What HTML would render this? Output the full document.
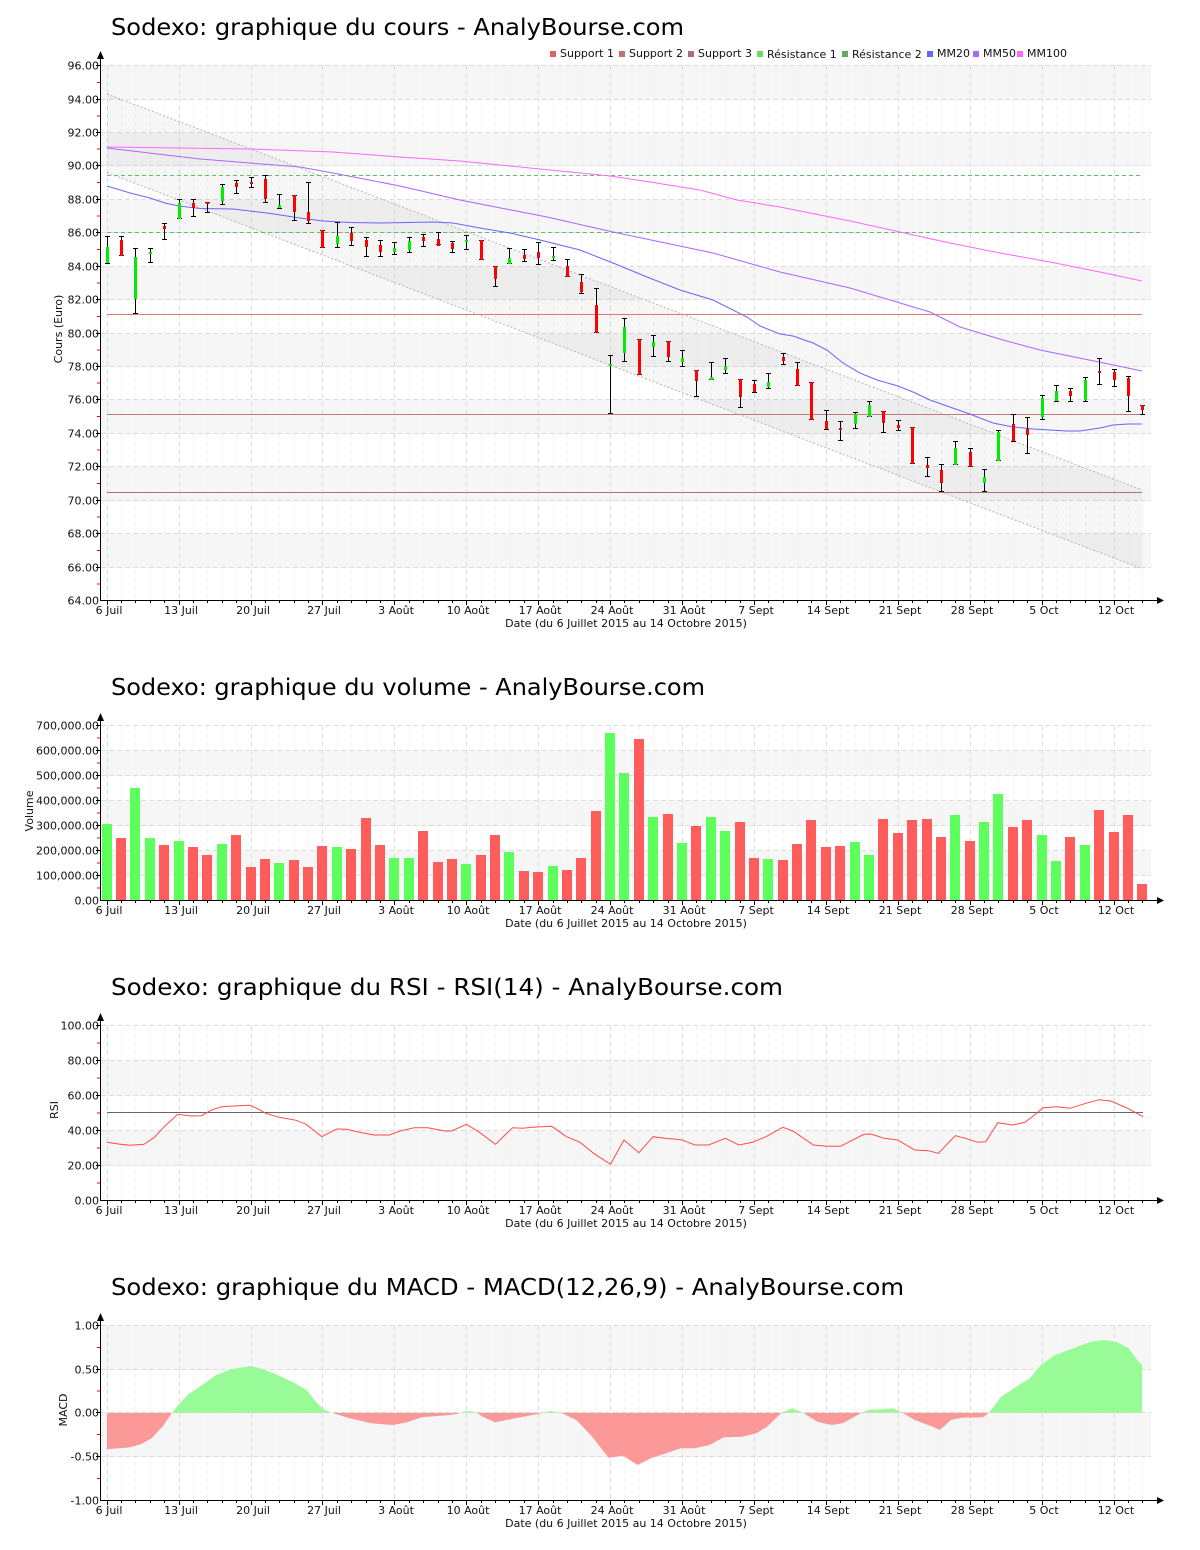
<!DOCTYPE html>
<html><head><meta charset="utf-8"><style>
html,body{margin:0;padding:0;background:#fff;}
svg{display:block;}
.t{font-family:"DejaVu Sans","Liberation Sans",sans-serif;font-size:11px;fill:#111;}
.ttl{font-family:"DejaVu Sans","Liberation Sans",sans-serif;font-size:23px;fill:#000;}
</style></head><body>
<svg width="1200" height="1550" viewBox="0 0 1200 1550" xmlns="http://www.w3.org/2000/svg">
<defs>
<path id="vmajT" d="M107.5 0v535M179.5 0v535M251.5 0v535M322.5 0v535M394.5 0v535M466.5 0v535M538.5 0v535M610.5 0v535M682.5 0v535M754.5 0v535M826.5 0v535M898.5 0v535M970.5 0v535M1042.5 0v535M1114.5 0v535" fill="none" stroke="#dcdcdc" stroke-dasharray="5 3"/>
<path id="vminT" d="M121.5 0v535M135.5 0v535M150.5 0v535M164.5 0v535M193.5 0v535M207.5 0v535M222.5 0v535M236.5 0v535M265.5 0v535M279.5 0v535M294.5 0v535M308.5 0v535M337.5 0v535M351.5 0v535M366.5 0v535M380.5 0v535M409.5 0v535M423.5 0v535M438.5 0v535M452.5 0v535M481.5 0v535M495.5 0v535M509.5 0v535M524.5 0v535M553.5 0v535M567.5 0v535M581.5 0v535M596.5 0v535M624.5 0v535M639.5 0v535M653.5 0v535M668.5 0v535M696.5 0v535M711.5 0v535M725.5 0v535M740.5 0v535M768.5 0v535M783.5 0v535M797.5 0v535M811.5 0v535M840.5 0v535M855.5 0v535M869.5 0v535M883.5 0v535M912.5 0v535M927.5 0v535M941.5 0v535M955.5 0v535M984.5 0v535M998.5 0v535M1013.5 0v535M1027.5 0v535M1056.5 0v535M1070.5 0v535M1085.5 0v535M1099.5 0v535M1128.5 0v535M1142.5 0v535" fill="none" stroke="#f2f2f2" stroke-dasharray="5 3"/>
<path id="vmajS" d="M107.5 0v175M179.5 0v175M251.5 0v175M322.5 0v175M394.5 0v175M466.5 0v175M538.5 0v175M610.5 0v175M682.5 0v175M754.5 0v175M826.5 0v175M898.5 0v175M970.5 0v175M1042.5 0v175M1114.5 0v175" fill="none" stroke="#dcdcdc" stroke-dasharray="5 3"/>
<path id="vminS" d="M121.5 0v175M135.5 0v175M150.5 0v175M164.5 0v175M193.5 0v175M207.5 0v175M222.5 0v175M236.5 0v175M265.5 0v175M279.5 0v175M294.5 0v175M308.5 0v175M337.5 0v175M351.5 0v175M366.5 0v175M380.5 0v175M409.5 0v175M423.5 0v175M438.5 0v175M452.5 0v175M481.5 0v175M495.5 0v175M509.5 0v175M524.5 0v175M553.5 0v175M567.5 0v175M581.5 0v175M596.5 0v175M624.5 0v175M639.5 0v175M653.5 0v175M668.5 0v175M696.5 0v175M711.5 0v175M725.5 0v175M740.5 0v175M768.5 0v175M783.5 0v175M797.5 0v175M811.5 0v175M840.5 0v175M855.5 0v175M869.5 0v175M883.5 0v175M912.5 0v175M927.5 0v175M941.5 0v175M955.5 0v175M984.5 0v175M998.5 0v175M1013.5 0v175M1027.5 0v175M1056.5 0v175M1070.5 0v175M1085.5 0v175M1099.5 0v175M1128.5 0v175M1142.5 0v175" fill="none" stroke="#f2f2f2" stroke-dasharray="5 3"/>
<path id="xticks" d="M107.5 0v4M179.5 0v4M251.5 0v4M322.5 0v4M394.5 0v4M466.5 0v4M538.5 0v4M610.5 0v4M682.5 0v4M754.5 0v4M826.5 0v4M898.5 0v4M970.5 0v4M1042.5 0v4M1114.5 0v4M121.5 0v2M135.5 0v2M150.5 0v2M164.5 0v2M193.5 0v2M207.5 0v2M222.5 0v2M236.5 0v2M265.5 0v2M279.5 0v2M294.5 0v2M308.5 0v2M337.5 0v2M351.5 0v2M366.5 0v2M380.5 0v2M409.5 0v2M423.5 0v2M438.5 0v2M452.5 0v2M481.5 0v2M495.5 0v2M509.5 0v2M524.5 0v2M553.5 0v2M567.5 0v2M581.5 0v2M596.5 0v2M624.5 0v2M639.5 0v2M653.5 0v2M668.5 0v2M696.5 0v2M711.5 0v2M725.5 0v2M740.5 0v2M768.5 0v2M783.5 0v2M797.5 0v2M811.5 0v2M840.5 0v2M855.5 0v2M869.5 0v2M883.5 0v2M912.5 0v2M927.5 0v2M941.5 0v2M955.5 0v2M984.5 0v2M998.5 0v2M1013.5 0v2M1027.5 0v2M1056.5 0v2M1070.5 0v2M1085.5 0v2M1099.5 0v2M1128.5 0v2M1142.5 0v2" fill="none" stroke="#000"/>
<clipPath id="cpos"><rect x="100" y="1300" width="1060" height="112.7"/></clipPath>
<clipPath id="cneg"><rect x="100" y="1412.7" width="1060" height="100"/></clipPath>
</defs>

<!-- ================= PRICE CHART ================= -->
<text class="ttl" x="111" y="35" textLength="573" lengthAdjust="spacingAndGlyphs">Sodexo: graphique du cours - AnalyBourse.com</text>

<g class="t">
<rect x="550" y="51" width="6" height="6" fill="#d86464"/><text x="560" y="57">Support 1</text>
<rect x="619" y="51" width="6" height="6" fill="#c47272"/><text x="629" y="57">Support 2</text>
<rect x="688" y="51" width="6" height="6" fill="#a87070"/><text x="698" y="57">Support 3</text>
<rect x="757" y="51" width="6" height="6" fill="#66dd66"/><text x="767" y="58">Résistance 1</text>
<rect x="842" y="51" width="6" height="6" fill="#66aa66"/><text x="852" y="58">Résistance 2</text>
<rect x="927" y="51" width="6" height="6" fill="#6666ff"/><text x="937" y="57">MM20</text>
<rect x="973" y="51" width="6" height="6" fill="#aa66ff"/><text x="983" y="57">MM50</text>
<rect x="1017" y="51" width="6" height="6" fill="#ff66ff"/><text x="1027" y="57">MM100</text>
</g>

<g fill="#f6f6f6">
<rect x="101" y="66" width="1050" height="33"/>
<rect x="101" y="133" width="1050" height="33"/>
<rect x="101" y="200" width="1050" height="33"/>
<rect x="101" y="267" width="1050" height="33"/>
<rect x="101" y="334" width="1050" height="33"/>
<rect x="101" y="400" width="1050" height="34"/>
<rect x="101" y="467" width="1050" height="34"/>
<rect x="101" y="534" width="1050" height="34"/>
</g>
<use href="#vminT" transform="translate(0,65.5)"/>
<use href="#vmajT" transform="translate(0,65.5)"/>
<path d="M101 65.5H1151M101 99.5H1151M101 132.5H1151M101 165.5H1151M101 199.5H1151M101 232.5H1151M101 266.5H1151M101 299.5H1151M101 333.5H1151M101 366.5H1151M101 399.5H1151M101 433.5H1151M101 466.5H1151M101 500.5H1151M101 533.5H1151M101 567.5H1151" fill="none" stroke="#dcdcdc" stroke-dasharray="5 3"/>

<polygon points="107,94 1142,490 1142,568.7 107,172.5" fill="#000" fill-opacity="0.035"/>
<path d="M107 94L1142 490M107 172.5L1142 568.7" fill="none" stroke="#b4b4b4" stroke-dasharray="2 2"/>

<path d="M107 314.5H1142" stroke="#dd7878" fill="none"/>
<path d="M107 414.5H1142" stroke="#c47a7a" fill="none"/>
<path d="M107 492.5H1142" stroke="#b07272" fill="none"/>
<path d="M107 175.5H1142M107 232.5H1142" stroke="#66bb66" stroke-dasharray="4 3" fill="none"/>

<polyline fill="none" stroke="#ff66ff" points="107,147 250,149 333,152 400,157 460,161 500,165 550,170 610,176 650,182 700,190 737,200 780,207 800,211 850,221 900,232 950,243 1000,253 1050,262 1100,272 1142,281"/>
<polyline fill="none" stroke="#aa66ff" points="107,148 200,159 300,167 333,173 400,186 460,200 547,217 613,232 713,253 780,272 850,288 900,303 930,312 960,327 1003,340 1040,350 1099,362 1142,371"/>
<polyline fill="none" stroke="#6666ff" points="107,186 130,193 150,198 165,203 179,206 200,208.5 233,209 267,213 300,218 323,221 350,222.5 380,223 433,222 453,223 480,228 510,233 540,240 580,250 613,263 647,277 680,290 713,300 747,317 760,326 780,334 793,336 813,343 827,350 843,363 860,373 877,380 898,386 913,392 930,400 967,413 993,423 1013,427 1033,429 1067,431 1080,431 1100,428 1113,425 1128,424 1142,424"/>

<path fill="none" stroke="#000" d="M107.5 236V264M105 236.5h5M105 263.5h5M121.5 236V256M119 236.5h5M119 255.5h5M135.5 248V314M133 248.5h5M133 313.5h5M150.5 248V263M148 248.5h5M148 262.5h5M164.5 223V240M162 223.5h5M162 239.5h5M179.5 199V219M177 199.5h5M177 218.5h5M193.5 199V217M191 199.5h5M191 216.5h5M207.5 202V213M205 202.5h5M205 212.5h5M222.5 184V205M220 184.5h5M220 204.5h5M236.5 180V194M234 180.5h5M234 193.5h5M251.5 177V188M249 177.5h5M249 187.5h5M265.5 175V203M263 175.5h5M263 202.5h5M279.5 194V209M277 194.5h5M277 208.5h5M294.5 195V221M292 195.5h5M292 220.5h5M308.5 182V224M306 182.5h5M306 223.5h5M322.5 230V248M320 230.5h5M320 247.5h5M337.5 222V248M335 222.5h5M335 247.5h5M351.5 227V246M349 227.5h5M349 245.5h5M366.5 237V257M364 237.5h5M364 256.5h5M380.5 240V257M378 240.5h5M378 256.5h5M394.5 242V255M392 242.5h5M392 254.5h5M409.5 237V253M407 237.5h5M407 252.5h5M423.5 234V247M421 234.5h5M421 246.5h5M438.5 232V245M436 232.5h5M436 244.5h5M452.5 241V253M450 241.5h5M450 252.5h5M466.5 235V250M464 235.5h5M464 249.5h5M481.5 240V260M479 240.5h5M479 259.5h5M495.5 266V287M493 266.5h5M493 286.5h5M509.5 248V264M507 248.5h5M507 263.5h5M524.5 249V262M522 249.5h5M522 261.5h5M538.5 242V265M536 242.5h5M536 264.5h5M553.5 247V261M551 247.5h5M551 260.5h5M567.5 259V277M565 259.5h5M565 276.5h5M581.5 274V294M579 274.5h5M579 293.5h5M596.5 288V333M594 288.5h5M594 332.5h5M610.5 355V414M608 355.5h5M608 413.5h5M624.5 318V362M622 318.5h5M622 361.5h5M639.5 339V375M637 339.5h5M637 374.5h5M653.5 335V357M651 335.5h5M651 356.5h5M668.5 341V362M666 341.5h5M666 361.5h5M682.5 350V367M680 350.5h5M680 366.5h5M696.5 370V397M694 370.5h5M694 396.5h5M711.5 362V380M709 362.5h5M709 379.5h5M725.5 358V374M723 358.5h5M723 373.5h5M740.5 379V408M738 379.5h5M738 407.5h5M754.5 380V393M752 380.5h5M752 392.5h5M768.5 373V389M766 373.5h5M766 388.5h5M783.5 353V365M781 353.5h5M781 364.5h5M797.5 362V386M795 362.5h5M795 385.5h5M811.5 382V420M809 382.5h5M809 419.5h5M826.5 410V430M824 410.5h5M824 429.5h5M840.5 421V441M838 421.5h5M838 440.5h5M855.5 412V429M853 412.5h5M853 428.5h5M869.5 401V417M867 401.5h5M867 416.5h5M883.5 411V433M881 411.5h5M881 432.5h5M898.5 420V431M896 420.5h5M896 430.5h5M912.5 427V464M910 427.5h5M910 463.5h5M927.5 457V477M925 457.5h5M925 476.5h5M941.5 464V492M939 464.5h5M939 491.5h5M955.5 441V465M953 441.5h5M953 464.5h5M970.5 448V467M968 448.5h5M968 466.5h5M984.5 469V492M982 469.5h5M982 491.5h5M998.5 430V461M996 430.5h5M996 460.5h5M1013.5 414V442M1011 414.5h5M1011 441.5h5M1027.5 417V454M1025 417.5h5M1025 453.5h5M1042.5 395V420M1040 395.5h5M1040 419.5h5M1056.5 385V402M1054 385.5h5M1054 401.5h5M1070.5 388V402M1068 388.5h5M1068 401.5h5M1085.5 377V402M1083 377.5h5M1083 401.5h5M1099.5 358V385M1097 358.5h5M1097 384.5h5M1114.5 369V387M1112 369.5h5M1112 386.5h5M1128.5 376V412M1126 376.5h5M1126 411.5h5M1142.5 405V415M1140 405.5h5M1140 414.5h5"/>
<g fill="#0e0">
<rect x="106" y="247" width="3" height="16"/><rect x="134" y="257" width="3" height="42"/><rect x="149" y="252" width="3" height="2"/><rect x="178" y="203" width="3" height="16"/><rect x="221" y="187" width="3" height="14"/><rect x="278" y="205" width="3" height="3"/><rect x="336" y="236" width="3" height="8"/><rect x="393" y="248" width="3" height="4"/><rect x="408" y="241" width="3" height="9"/><rect x="465" y="240" width="3" height="2"/><rect x="508" y="258" width="3" height="6"/><rect x="552" y="256" width="3" height="2"/><rect x="609" y="364" width="3" height="2"/><rect x="623" y="327" width="3" height="26"/><rect x="652" y="342" width="3" height="5"/><rect x="681" y="358" width="3" height="4"/><rect x="710" y="377" width="3" height="3"/><rect x="724" y="366" width="3" height="4"/><rect x="767" y="382" width="3" height="5"/><rect x="854" y="414" width="3" height="10"/><rect x="868" y="405" width="3" height="12"/><rect x="954" y="448" width="3" height="17"/><rect x="983" y="477" width="3" height="6"/><rect x="997" y="432" width="3" height="29"/><rect x="1041" y="398" width="3" height="19"/><rect x="1055" y="391" width="3" height="10"/><rect x="1084" y="380" width="3" height="20"/>
</g>
<g fill="#f00">
<rect x="120" y="240" width="3" height="16"/><rect x="163" y="226" width="3" height="3"/><rect x="192" y="203" width="3" height="5"/><rect x="206" y="202" width="3" height="2"/><rect x="235" y="183" width="3" height="4"/><rect x="250" y="182" width="3" height="2"/><rect x="264" y="179" width="3" height="20"/><rect x="293" y="195" width="3" height="17"/><rect x="307" y="212" width="3" height="9"/><rect x="321" y="230" width="3" height="18"/><rect x="350" y="233" width="3" height="8"/><rect x="365" y="240" width="3" height="7"/><rect x="379" y="245" width="3" height="7"/><rect x="422" y="237" width="3" height="4"/><rect x="437" y="239" width="3" height="7"/><rect x="451" y="243" width="3" height="6"/><rect x="480" y="240" width="3" height="20"/><rect x="494" y="266" width="3" height="13"/><rect x="523" y="255" width="3" height="4"/><rect x="537" y="252" width="3" height="6"/><rect x="566" y="266" width="3" height="11"/><rect x="580" y="282" width="3" height="10"/><rect x="595" y="305" width="3" height="28"/><rect x="638" y="339" width="3" height="36"/><rect x="667" y="341" width="3" height="16"/><rect x="695" y="370" width="3" height="11"/><rect x="739" y="379" width="3" height="18"/><rect x="753" y="384" width="3" height="8"/><rect x="782" y="357" width="3" height="4"/><rect x="796" y="369" width="3" height="17"/><rect x="810" y="382" width="3" height="38"/><rect x="825" y="421" width="3" height="8"/><rect x="839" y="428" width="3" height="2"/><rect x="882" y="411" width="3" height="12"/><rect x="897" y="425" width="3" height="3"/><rect x="911" y="427" width="3" height="37"/><rect x="926" y="465" width="3" height="3"/><rect x="940" y="470" width="3" height="13"/><rect x="969" y="452" width="3" height="15"/><rect x="1012" y="424" width="3" height="17"/><rect x="1026" y="429" width="3" height="6"/><rect x="1069" y="391" width="3" height="5"/><rect x="1098" y="371" width="3" height="2"/><rect x="1113" y="372" width="3" height="8"/><rect x="1127" y="378" width="3" height="18"/><rect x="1141" y="405" width="3" height="5"/>
</g>

<path d="M100.5 57V600.5H1157" fill="none" stroke="#000"/>
<polygon points="100.5,51 97,59 104,59" fill="#000"/>
<polygon points="1164,600.5 1157,597 1157,604" fill="#000"/>
<path d="M96 65.5h4M96 99.5h4M96 132.5h4M96 165.5h4M96 199.5h4M96 232.5h4M96 266.5h4M96 299.5h4M96 333.5h4M96 366.5h4M96 399.5h4M96 433.5h4M96 466.5h4M96 500.5h4M96 533.5h4M96 567.5h4" stroke="#000"/>
<path d="M97 82.5h3M97 116h3M97 149h3M97 182.5h3M97 216h3M97 249.5h3M97 283h3M97 316.5h3M97 350h3M97 383h3M97 416.5h3M97 450h3M97 483.5h3M97 517h3M97 550.5h3M97 584h3" stroke="#f00"/>
<use href="#xticks" transform="translate(0,601)"/>
<g class="t" text-anchor="end">
<text x="99" y="69.5">96.00</text><text x="99" y="103.5">94.00</text><text x="99" y="136.5">92.00</text><text x="99" y="169.5">90.00</text><text x="99" y="203.5">88.00</text><text x="99" y="236.5">86.00</text><text x="99" y="270.5">84.00</text><text x="99" y="303.5">82.00</text><text x="99" y="337.5">80.00</text><text x="99" y="370.5">78.00</text><text x="99" y="403.5">76.00</text><text x="99" y="437.5">74.00</text><text x="99" y="470.5">72.00</text><text x="99" y="504.5">70.00</text><text x="99" y="537.5">68.00</text><text x="99" y="571.5">66.00</text><text x="99" y="604.5">64.00</text>
</g>
<g class="t" text-anchor="middle">
<text x="109" y="614">6 Juil</text><text x="181" y="614">13 Juil</text><text x="253" y="614">20 Juil</text><text x="324" y="614">27 Juil</text><text x="396" y="614">3 Août</text><text x="468" y="614">10 Août</text><text x="540" y="614">17 Août</text><text x="612" y="614">24 Août</text><text x="684" y="614">31 Août</text><text x="756" y="614">7 Sept</text><text x="828" y="614">14 Sept</text><text x="900" y="614">21 Sept</text><text x="972" y="614">28 Sept</text><text x="1044" y="614">5 Oct</text><text x="1116" y="614">12 Oct</text>
<text x="626" y="627">Date (du 6 Juillet 2015 au 14 Octobre 2015)</text>
</g>
<text class="t" text-anchor="middle" transform="translate(62,329) rotate(-90)">Cours (Euro)</text>

<!-- ================= VOLUME CHART ================= -->
<text class="ttl" x="111" y="695" textLength="594" lengthAdjust="spacingAndGlyphs">Sodexo: graphique du volume - AnalyBourse.com</text>
<g fill="#f6f6f6">
<rect x="101" y="751" width="1050" height="25"/>
<rect x="101" y="801" width="1050" height="25"/>
<rect x="101" y="851" width="1050" height="25"/>
</g>
<use href="#vminS" transform="translate(0,725.5)"/>
<use href="#vmajS" transform="translate(0,725.5)"/>
<path d="M101 725.5H1151M101 750.5H1151M101 775.5H1151M101 800.5H1151M101 825.5H1151M101 850.5H1151M101 875.5H1151" fill="none" stroke="#dcdcdc" stroke-dasharray="5 3"/>
<g fill="#5cff5c">
<rect x="102" y="824" width="10" height="76"/><rect x="130" y="788" width="10" height="112"/><rect x="145" y="838" width="10" height="62"/><rect x="174" y="841" width="10" height="59"/><rect x="217" y="844" width="10" height="56"/><rect x="274" y="863" width="10" height="37"/><rect x="332" y="847" width="10" height="53"/><rect x="389" y="858" width="10" height="42"/><rect x="404" y="858" width="10" height="42"/><rect x="461" y="864" width="10" height="36"/><rect x="504" y="852" width="10" height="48"/><rect x="548" y="866" width="10" height="34"/><rect x="605" y="733" width="10" height="167"/><rect x="619" y="773" width="10" height="127"/><rect x="648" y="817" width="10" height="83"/><rect x="677" y="843" width="10" height="57"/><rect x="706" y="817" width="10" height="83"/><rect x="720" y="831" width="10" height="69"/><rect x="763" y="859" width="10" height="41"/><rect x="850" y="842" width="10" height="58"/><rect x="864" y="855" width="10" height="45"/><rect x="950" y="815" width="10" height="85"/><rect x="979" y="822" width="10" height="78"/><rect x="993" y="794" width="10" height="106"/><rect x="1037" y="835" width="10" height="65"/><rect x="1051" y="861" width="10" height="39"/><rect x="1080" y="845" width="10" height="55"/>
</g>
<g fill="#ff5c5c">
<rect x="116" y="838" width="10" height="62"/><rect x="159" y="845" width="10" height="55"/><rect x="188" y="847" width="10" height="53"/><rect x="202" y="855" width="10" height="45"/><rect x="231" y="835" width="10" height="65"/><rect x="246" y="867" width="10" height="33"/><rect x="260" y="859" width="10" height="41"/><rect x="289" y="860" width="10" height="40"/><rect x="303" y="867" width="10" height="33"/><rect x="317" y="846" width="10" height="54"/><rect x="346" y="849" width="10" height="51"/><rect x="361" y="818" width="10" height="82"/><rect x="375" y="845" width="10" height="55"/><rect x="418" y="831" width="10" height="69"/><rect x="433" y="862" width="10" height="38"/><rect x="447" y="859" width="10" height="41"/><rect x="476" y="855" width="10" height="45"/><rect x="490" y="835" width="10" height="65"/><rect x="519" y="871" width="10" height="29"/><rect x="533" y="872" width="10" height="28"/><rect x="562" y="870" width="10" height="30"/><rect x="576" y="858" width="10" height="42"/><rect x="591" y="811" width="10" height="89"/><rect x="634" y="739" width="10" height="161"/><rect x="663" y="814" width="10" height="86"/><rect x="691" y="826" width="10" height="74"/><rect x="735" y="822" width="10" height="78"/><rect x="749" y="858" width="10" height="42"/><rect x="778" y="860" width="10" height="40"/><rect x="792" y="844" width="10" height="56"/><rect x="806" y="820" width="10" height="80"/><rect x="821" y="847" width="10" height="53"/><rect x="835" y="846" width="10" height="54"/><rect x="878" y="819" width="10" height="81"/><rect x="893" y="833" width="10" height="67"/><rect x="907" y="820" width="10" height="80"/><rect x="922" y="819" width="10" height="81"/><rect x="936" y="837" width="10" height="63"/><rect x="965" y="841" width="10" height="59"/><rect x="1008" y="827" width="10" height="73"/><rect x="1022" y="820" width="10" height="80"/><rect x="1065" y="837" width="10" height="63"/><rect x="1094" y="810" width="10" height="90"/><rect x="1109" y="832" width="10" height="68"/><rect x="1123" y="815" width="10" height="85"/><rect x="1137" y="884" width="10" height="16"/>
</g>
<path d="M100.5 719V900.5H1157" fill="none" stroke="#000"/>
<polygon points="100.5,713 97,721 104,721" fill="#000"/>
<polygon points="1164,900.5 1157,897 1157,904" fill="#000"/>
<path d="M96 725.5h4M96 750.5h4M96 775.5h4M96 800.5h4M96 825.5h4M96 850.5h4M96 875.5h4" stroke="#000"/>
<path d="M97 738h3M97 763h3M97 788h3M97 813h3M97 838h3M97 863h3M97 888h3" stroke="#f00"/>
<use href="#xticks" transform="translate(0,901)"/>
<g class="t" text-anchor="end">
<text x="99" y="729.5">700,000.00</text><text x="99" y="754.5">600,000.00</text><text x="99" y="779.5">500,000.00</text><text x="99" y="804.5">400,000.00</text><text x="99" y="829.5">300,000.00</text><text x="99" y="854.5">200,000.00</text><text x="99" y="879.5">100,000.00</text><text x="99" y="904.5">0.00</text>
</g>
<g class="t" text-anchor="middle">
<text x="109" y="914">6 Juil</text><text x="181" y="914">13 Juil</text><text x="253" y="914">20 Juil</text><text x="324" y="914">27 Juil</text><text x="396" y="914">3 Août</text><text x="468" y="914">10 Août</text><text x="540" y="914">17 Août</text><text x="612" y="914">24 Août</text><text x="684" y="914">31 Août</text><text x="756" y="914">7 Sept</text><text x="828" y="914">14 Sept</text><text x="900" y="914">21 Sept</text><text x="972" y="914">28 Sept</text><text x="1044" y="914">5 Oct</text><text x="1116" y="914">12 Oct</text>
<text x="626" y="927">Date (du 6 Juillet 2015 au 14 Octobre 2015)</text>
</g>
<text class="t" text-anchor="middle" transform="translate(33,811) rotate(-90)">Volume</text>

<!-- ================= RSI CHART ================= -->
<text class="ttl" x="111" y="995" textLength="672" lengthAdjust="spacingAndGlyphs">Sodexo: graphique du RSI - RSI(14) - AnalyBourse.com</text>
<g fill="#f6f6f6">
<rect x="101" y="1061" width="1050" height="35"/>
<rect x="101" y="1131" width="1050" height="35"/>
</g>
<use href="#vminS" transform="translate(0,1025.5)"/>
<use href="#vmajS" transform="translate(0,1025.5)"/>
<path d="M101 1025.5H1151M101 1060.5H1151M101 1095.5H1151M101 1130.5H1151M101 1165.5H1151" fill="none" stroke="#dcdcdc" stroke-dasharray="5 3"/>
<path d="M107 1112.5H1143" stroke="#666" fill="none"/>
<polyline fill="none" stroke="#ff4a4a" points="107,1142.3 120.3,1144.3 130.4,1145.3 144,1144.3 154,1137.7 164.2,1126.7 177.8,1114.3 191.3,1116 201.4,1115.7 211.6,1110 221.7,1106.7 238.6,1105.7 250.1,1105.3 256.9,1108.3 265.7,1113.3 279.2,1117.3 296.1,1120.3 306.2,1124.3 321.8,1136.7 336.6,1129 346.8,1129.3 356.9,1131.7 373.8,1135 389.4,1135 400.9,1130.7 414.4,1127.7 427.9,1127.7 444.8,1131 451.6,1131 466.5,1124.3 478.6,1131.7 495.5,1144.3 512.5,1127.7 522.6,1128.3 532.7,1127.3 551.7,1126.3 566.5,1136.7 580,1142.3 593.6,1153.3 610.5,1164.3 624,1140 638.9,1152.7 653.1,1136.7 664.6,1138.3 681.5,1139.7 695,1145 708.5,1145 725.4,1138.3 738.9,1145 752.5,1142.3 766,1136.7 782.9,1127.3 793,1131 813.3,1145 826.8,1146.3 840.4,1146.3 864,1134.3 870.8,1134 884.3,1138.3 897.8,1140 914.7,1150 928.3,1150.7 938.4,1153.3 955.3,1135.7 965.5,1138.3 977.6,1142.3 985.7,1141.7 997.9,1122.7 1012.8,1125 1024.9,1122.3 1034.4,1115 1043.2,1107.7 1056.8,1106.7 1070.3,1108.3 1085.8,1103.3 1099.3,1099.7 1110.8,1101 1127.7,1108.3 1143,1116.7"/>
<path d="M100.5 1019V1200.5H1157" fill="none" stroke="#000"/>
<polygon points="100.5,1013 97,1021 104,1021" fill="#000"/>
<polygon points="1164,1200.5 1157,1197 1157,1204" fill="#000"/>
<path d="M96 1025.5h4M96 1060.5h4M96 1095.5h4M96 1130.5h4M96 1165.5h4" stroke="#000"/>
<path d="M97 1043h3M97 1078h3M97 1113h3M97 1148h3M97 1183h3" stroke="#f00"/>
<use href="#xticks" transform="translate(0,1201)"/>
<g class="t" text-anchor="end">
<text x="99" y="1029.5">100.00</text><text x="99" y="1064.5">80.00</text><text x="99" y="1099.5">60.00</text><text x="99" y="1134.5">40.00</text><text x="99" y="1169.5">20.00</text><text x="99" y="1204.5">0.00</text>
</g>
<g class="t" text-anchor="middle">
<text x="109" y="1214">6 Juil</text><text x="181" y="1214">13 Juil</text><text x="253" y="1214">20 Juil</text><text x="324" y="1214">27 Juil</text><text x="396" y="1214">3 Août</text><text x="468" y="1214">10 Août</text><text x="540" y="1214">17 Août</text><text x="612" y="1214">24 Août</text><text x="684" y="1214">31 Août</text><text x="756" y="1214">7 Sept</text><text x="828" y="1214">14 Sept</text><text x="900" y="1214">21 Sept</text><text x="972" y="1214">28 Sept</text><text x="1044" y="1214">5 Oct</text><text x="1116" y="1214">12 Oct</text>
<text x="626" y="1227">Date (du 6 Juillet 2015 au 14 Octobre 2015)</text>
</g>
<text class="t" text-anchor="middle" transform="translate(58,1110) rotate(-90)">RSI</text>

<!-- ================= MACD CHART ================= -->
<text class="ttl" x="111" y="1295" textLength="793" lengthAdjust="spacingAndGlyphs">Sodexo: graphique du MACD - MACD(12,26,9) - AnalyBourse.com</text>
<g fill="#f6f6f6">
<rect x="101" y="1326" width="1050" height="44"/>
<rect x="101" y="1413" width="1050" height="44"/>
</g>
<use href="#vminS" transform="translate(0,1325.5)"/>
<use href="#vmajS" transform="translate(0,1325.5)"/>
<path d="M101 1325.5H1151M101 1369.5H1151M101 1412.5H1151M101 1456.5H1151" fill="none" stroke="#dcdcdc" stroke-dasharray="5 3"/>
<path d="M107 1412.7L107 1449.3L119.2 1448.3L130 1447.3L140.8 1444.3L151.6 1438.3L162.4 1426.7L171.7 1413.3L176.8 1406.7L187.6 1395L202 1385L216.4 1375L230.8 1369.3L251 1366L263.2 1369.3L277.6 1375L292 1381.7L306.4 1390L317.2 1403.3L324.4 1410L331.6 1412.7L349.6 1418.3L371.2 1423.3L392.8 1425L407.2 1422.3L421.6 1417.3L450.4 1415L457.6 1413.7L466.2 1411L475.6 1412L482.8 1416.7L495 1422.3L515.2 1418.3L536.8 1414.3L551.2 1411L562 1413.3L576.3 1420L590.7 1435L608.8 1457.7L623.2 1455.7L637.5 1465L651.9 1457.7L666.3 1453.3L680.7 1448.3L695.1 1448.3L709.5 1445L723.9 1437.3L741.9 1436.7L756.3 1433.3L767.1 1426.7L781.5 1412.7L792.3 1408.3L803.1 1412.7L817.5 1421.7L831.9 1425L842.7 1423.3L860.7 1413.3L868 1410L882.3 1409.3L893.1 1408.3L902.5 1412.7L914.7 1420L932.7 1426.7L940 1430L950.7 1420L961.5 1417.7L983.1 1417.3L988.9 1412.7L1001.1 1396.7L1019.1 1385L1029.9 1378.3L1040.7 1365L1055.1 1355L1073 1348.3L1091.1 1341.7L1104 1340L1116.3 1341.7L1128.5 1348.3L1140 1363.3L1142 1364L1142 1412.7Z" fill="#98fb98" clip-path="url(#cpos)"/>
<path d="M107 1412.7L107 1449.3L119.2 1448.3L130 1447.3L140.8 1444.3L151.6 1438.3L162.4 1426.7L171.7 1413.3L176.8 1406.7L187.6 1395L202 1385L216.4 1375L230.8 1369.3L251 1366L263.2 1369.3L277.6 1375L292 1381.7L306.4 1390L317.2 1403.3L324.4 1410L331.6 1412.7L349.6 1418.3L371.2 1423.3L392.8 1425L407.2 1422.3L421.6 1417.3L450.4 1415L457.6 1413.7L466.2 1411L475.6 1412L482.8 1416.7L495 1422.3L515.2 1418.3L536.8 1414.3L551.2 1411L562 1413.3L576.3 1420L590.7 1435L608.8 1457.7L623.2 1455.7L637.5 1465L651.9 1457.7L666.3 1453.3L680.7 1448.3L695.1 1448.3L709.5 1445L723.9 1437.3L741.9 1436.7L756.3 1433.3L767.1 1426.7L781.5 1412.7L792.3 1408.3L803.1 1412.7L817.5 1421.7L831.9 1425L842.7 1423.3L860.7 1413.3L868 1410L882.3 1409.3L893.1 1408.3L902.5 1412.7L914.7 1420L932.7 1426.7L940 1430L950.7 1420L961.5 1417.7L983.1 1417.3L988.9 1412.7L1001.1 1396.7L1019.1 1385L1029.9 1378.3L1040.7 1365L1055.1 1355L1073 1348.3L1091.1 1341.7L1104 1340L1116.3 1341.7L1128.5 1348.3L1140 1363.3L1142 1364L1142 1412.7Z" fill="#fb9898" clip-path="url(#cneg)"/>
<path d="M100.5 1319V1500.5H1157" fill="none" stroke="#000"/>
<polygon points="100.5,1313 97,1321 104,1321" fill="#000"/>
<polygon points="1164,1500.5 1157,1497 1157,1504" fill="#000"/>
<path d="M96 1325.5h4M96 1369.5h4M96 1412.5h4M96 1456.5h4" stroke="#000"/>
<path d="M97 1347.5h3M97 1391h3M97 1434.5h3M97 1478.5h3" stroke="#f00"/>
<use href="#xticks" transform="translate(0,1501)"/>
<g class="t" text-anchor="end">
<text x="99" y="1329.5">1.00</text><text x="99" y="1373.5">0.50</text><text x="99" y="1416.5">0.00</text><text x="99" y="1460.5">-0.50</text><text x="99" y="1504.5">-1.00</text>
</g>
<g class="t" text-anchor="middle">
<text x="109" y="1514">6 Juil</text><text x="181" y="1514">13 Juil</text><text x="253" y="1514">20 Juil</text><text x="324" y="1514">27 Juil</text><text x="396" y="1514">3 Août</text><text x="468" y="1514">10 Août</text><text x="540" y="1514">17 Août</text><text x="612" y="1514">24 Août</text><text x="684" y="1514">31 Août</text><text x="756" y="1514">7 Sept</text><text x="828" y="1514">14 Sept</text><text x="900" y="1514">21 Sept</text><text x="972" y="1514">28 Sept</text><text x="1044" y="1514">5 Oct</text><text x="1116" y="1514">12 Oct</text>
<text x="626" y="1527">Date (du 6 Juillet 2015 au 14 Octobre 2015)</text>
</g>
<text class="t" text-anchor="middle" transform="translate(67,1410) rotate(-90)">MACD</text>
</svg>
</body></html>
